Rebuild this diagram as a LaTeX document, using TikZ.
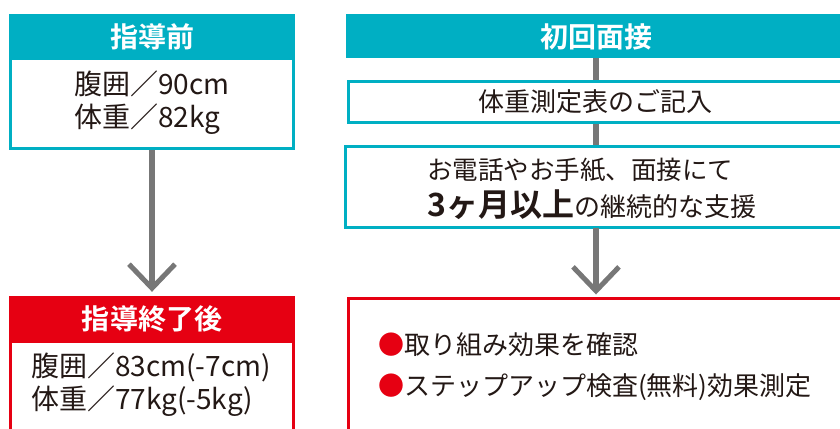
\documentclass[tikz,border=0pt]{standalone}
\usepackage{fontspec}
\setmainfont{Noto Sans CJK JP}[BoldFont={Noto Sans CJK JP Bold}]
\usetikzlibrary{arrows.meta}
\definecolor{teal1}{HTML}{00AFC3}
\definecolor{red1}{HTML}{E60012}
\definecolor{ink}{HTML}{231815}
\definecolor{arrowgray}{HTML}{777777}
\newcommand{\fs}[1]{\fontsize{#1bp}{#1bp}\selectfont}
\begin{document}
\begin{tikzpicture}[x=1bp,y=-1bp,
  hdrteal/.style={fill=teal1, draw=none, inner sep=0, minimum height=44bp, text=white, font=\fs{28}\bfseries},
  hdrred/.style={fill=red1, draw=none, inner sep=0, minimum height=45bp, text=white, font=\fs{28}\bfseries},
  tealbox/.style={draw=teal1, line width=3bp, fill=white, inner sep=0},
  redbox/.style={draw=red1, line width=3bp, fill=white, inner sep=0},
  body/.style={text=ink, inner sep=0, font=\fs{26}},
  hdrtext/.style={font=\fs{28}\bfseries, text=white, inner sep=0},
  flow/.style={draw=arrowgray, line width=5.5bp},
  chev/.style={flow, -{Straight Barb[length=24bp, width=46bp, line width=5bp, line join=miter]}, shorten >=4bp}
]
\useasboundingbox (0,0) rectangle (840,428);
\clip (0,0) rectangle (840,428);
% left column
\node[hdrteal, minimum width=286bp] (lhead) at (152,36) {};
\node[tealbox, minimum width=283bp, minimum height=90bp] (lbody) at (152,103) {};
\node[hdrred, minimum width=286bp] (lredhead) at (152,318.5) {};
\node[redbox, minimum width=283bp, minimum height=120bp] (lredbody) at (152,401) {};
\draw[chev] (lbody.south) -- (lredhead.north);
% right column
\node[hdrteal, minimum width=520bp] (rhead) at (606,36) {};
\draw[flow] (596,58) coordinate (rtop) -- (596,150);
\node[tealbox, minimum width=520bp, minimum height=41bp] (rbox1) at (608.5,102) {};
\node[tealbox, minimum width=520bp, minimum height=81bp] (rbox2) at (605.5,187) {};
\node[redbox, minimum width=520bp, minimum height=160bp] (rred) at (608.5,378.5) {};
\coordinate (rtip) at (596,298.5);
\draw[chev] (596,228) coordinate (rfrom) -- (rtip);
% texts
\node[hdrtext] (t1) at (152,37) {指導前};
\node[hdrtext] (t2) at (596,37) {初回面接};
\node[hdrtext] (t3) at (152,319) {指導終了後};
\node[body, font=\fs{28}, anchor=west] (l1) at (74,84) {腹囲／90cm};
\node[body, font=\fs{28}, anchor=west] (l2) at (74,119) {体重／82kg};
\node[body, font=\fs{28}, anchor=west] (l3) at (31,367) {腹囲／83cm(-7cm)};
\node[body, font=\fs{28}, anchor=west] (l4) at (31,401) {体重／77kg(-5kg)};
\node[body] (r1) at (595,102) {体重測定表のご記入};
\node[body, font=\fs{25.5}, anchor=west] (r2) at (427,170) {お電話やお手紙、面接にて};
\node[body, anchor=west] (r3) at (427,205) {{\fs{32}\bfseries 3ヶ月以上}の継続的な支援};
\node[body, anchor=west] (r4) at (378,345) {\textcolor{red1}{●}取り組み効果を確認};
\node[body, anchor=west] (r5) at (378,387) {\textcolor{red1}{●}ステップアップ検査(無料)効果測定};
\end{tikzpicture}
\end{document}
